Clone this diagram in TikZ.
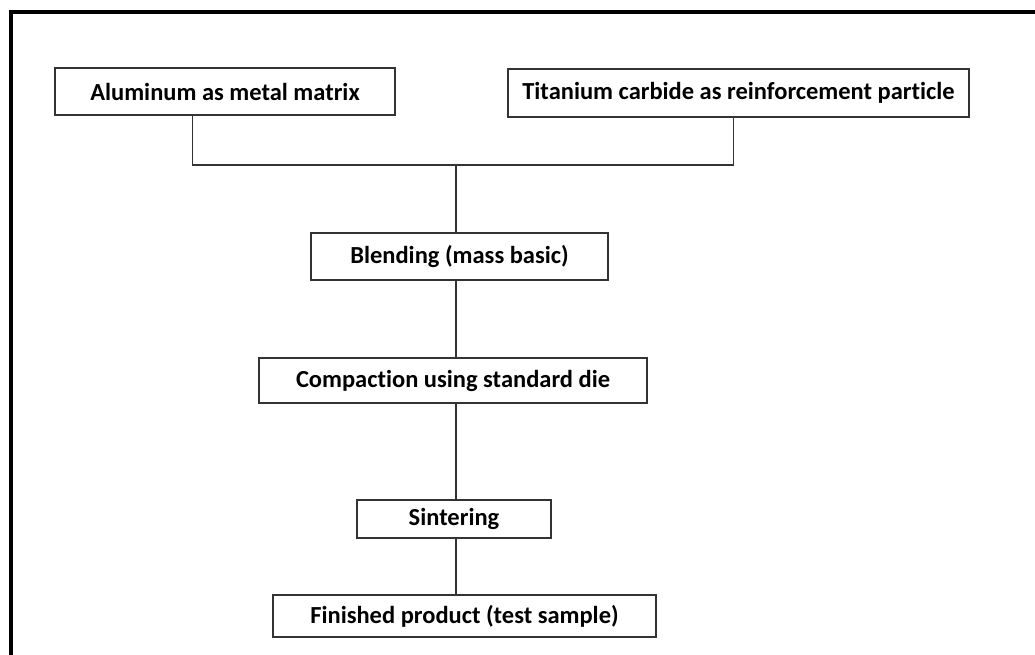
\documentclass[tikz,border=0pt]{standalone}
\usepackage{fontspec}
\setmainfont{Carlito}[Ligatures=NoCommon]
\begin{document}
\begin{tikzpicture}[x=1pt,y=-1pt,
    stage/.style={draw=black!80,line width=1.3pt,inner sep=0pt,
      font=\fontsize{24.5}{29}\selectfont\bfseries},
    link/.style={draw=black!80,line width=1.3pt}]
                \useasboundingbox (0,0) rectangle (1035,655);
                \draw[line width=4pt] (11,655) -- (11,12.5) -- (1035,12.5);
                \node[stage,minimum width=340pt,minimum height=47pt] (alu) at (225,91.5) {Aluminum as metal matrix};
                \node[stage,minimum width=461pt,minimum height=48pt] (tic) at (738.5,93) {Titanium carbide as reinforcement particle};
                \node[stage,minimum width=297pt,minimum height=47pt] (blend) at (459.5,256.5) {Blending (mass basic)};
                \node[stage,minimum width=388pt,minimum height=45pt] (comp) at (453,380.5) {Compaction using standard die};
                \node[stage,minimum width=194pt,minimum height=38pt] (sint) at (454,519) {Sintering};
                \node[stage,minimum width=383pt,minimum height=42pt] (fin) at (464.5,616) {Finished product (test sample)};
                \coordinate (join) at (456,165);
                \draw[link] ([xshift=138pt]alu.south west) |- (join) -| ([xshift=226pt]tic.south west);
                \draw[link] (join) -- (join |- blend.north);
                \draw[link] (blend.south -| join) -- (comp.north -| join);
                \draw[link] (comp.south -| join) -- (sint.north -| join);
                \draw[link] (sint.south -| join) -- (fin.north -| join);
            \end{tikzpicture}
\end{document}
